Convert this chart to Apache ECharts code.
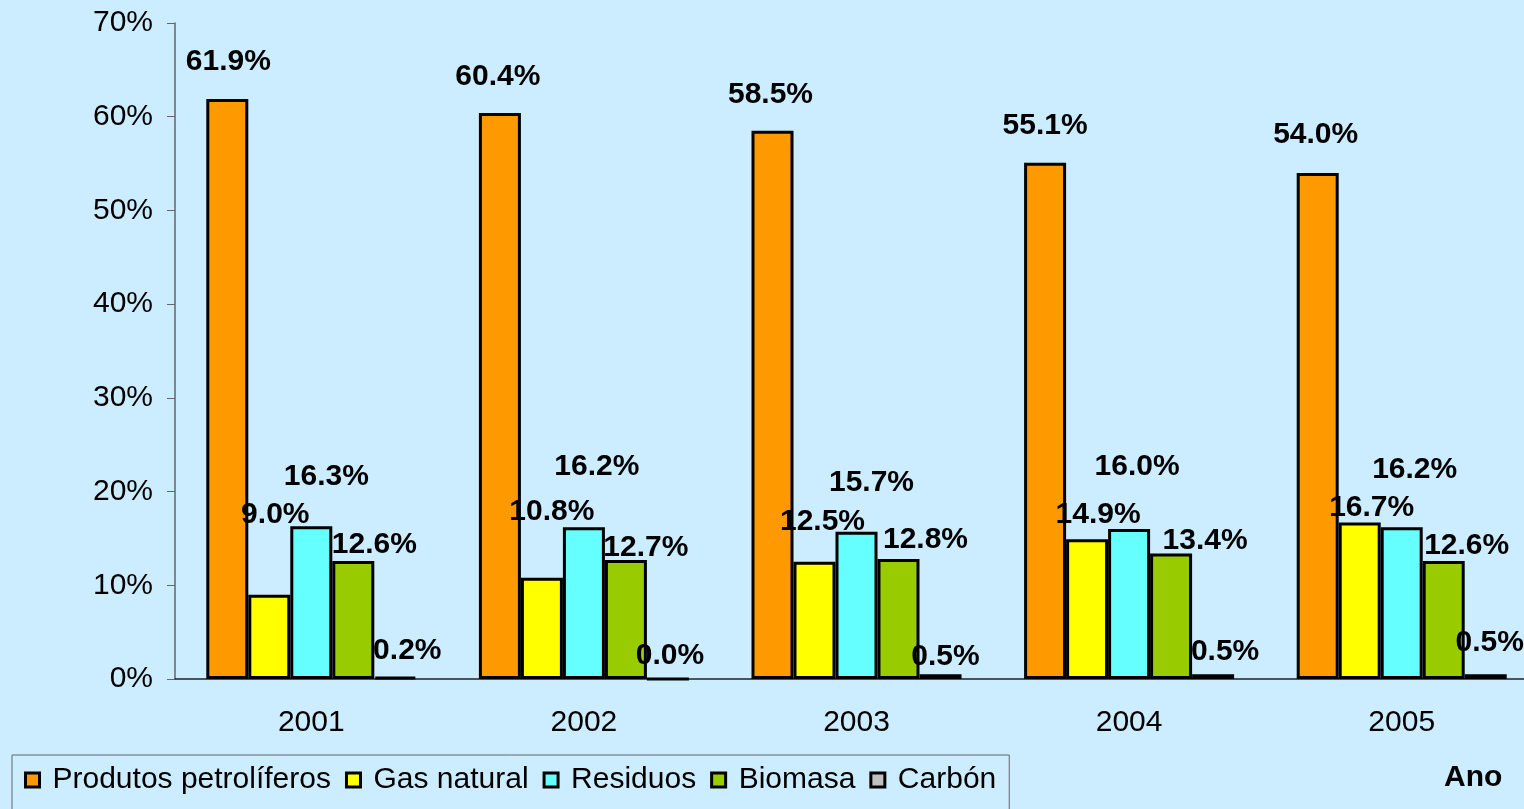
<!DOCTYPE html>
<html>
<head>
<meta charset="utf-8">
<title>Consumo por fonte</title>
<script src="https://cdn.jsdelivr.net/npm/echarts@6/dist/echarts.min.js"></script>
<style>
    html, body { margin: 0; padding: 0; background: #CCECFF; }
    #placeholder { width: 1524px; height: 809px; }
</style>
</head>
<body>
<div id="placeholder"></div>
<script>
// datos do grafico
var years = ['2001', '2002', '2003', '2004', '2005'];
var seriesNames = ['Produtos petrolíferos', 'Gas natural', 'Residuos', 'Biomasa', 'Carbón'];
var petroliferos = [61.9, 60.4, 58.5, 55.1, 54.0];
var gasNatural = [9.0, 10.8, 12.5, 14.9, 16.7];
var residuos = [16.3, 16.2, 15.7, 16.0, 16.2];
var biomasa = [12.6, 12.7, 12.8, 13.4, 12.6];
var carbon = [0.2, 0.0, 0.5, 0.5, 0.5];
var yTicks = [0, 10, 20, 30, 40, 50, 60, 70];

(function () {
    'use strict'

    var colors = ['#FF9900', '#FFFF00', '#66FFFF', '#99CC00', '#C0C0C0'];
    var values = [petroliferos, gasNatural, residuos, biomasa, carbon];

    // label nudges (dx, dy) per serie/year, labels were moved by hand in the original
    var labelNudge = [
        [[1, -22], [-2, -21], [-2, -21], [0, -22], [-2, -23]],
        [[6, -65], [10, -51], [8, -25], [11, -10], [12, 0]],
        [[15, -35], [13, -45], [15, -34], [8, -47], [13, -42]],
        [[21, -1], [20, 3], [27, -4], [34, 2], [23, 0]],
        [[12, -11], [2, -7], [5, -3], [12, -8], [4, -17]]
    ];

    var font = 'Liberation Sans, Arial, sans-serif';

    var series = values.map(function (arr, s) {
        return {
            name: seriesNames[s],
            type: 'bar',
            barWidth: 42,
            barGap: '0%',
            itemStyle: {
                color: colors[s],
                borderColor: '#000',
                borderWidth: 3
            },
            label: {
                show: true,
                position: 'top',
                distance: 0,
                color: '#000',
                fontFamily: font,
                fontWeight: 'bold',
                fontSize: 30,
                formatter: function (p) { return p.value.toFixed(1) + '%'; }
            },
            data: arr.map(function (v, i) {
                return { value: v, label: { offset: labelNudge[s][i] } };
            })
        };
    });

    var legendData = seriesNames.map(function (n, s) {
        return {
            name: n,
            itemStyle: { color: colors[s], borderColor: '#000', borderWidth: 3 }
        };
    });

    var myChart = echarts.init(document.getElementById('placeholder'));
    var option = {
        backgroundColor: '#CCECFF',
        animation: false,
        textStyle: { fontFamily: font },
        title: {
            text: 'Ano',
            left: 1444,
            top: 763,
            padding: 0,
            textStyle: { fontFamily: font, fontWeight: 'bold', fontSize: 30, color: '#000' }
        },
        grid: {
            left: 175,
            right: -14,
            top: 23,
            bottom: 130,
            outerBoundsMode: 'none'
        },
        legend: {
            left: 12,
            top: 755,
            orient: 'horizontal',
            backgroundColor: '#CCECFF',
            borderColor: '#666',
            borderWidth: 1,
            borderRadius: 0,
            padding: [10, 13, 40, 12],
            itemWidth: 14,
            itemHeight: 14,
            itemGap: 14,
            icon: 'rect',
            textStyle: {
                fontFamily: font,
                fontSize: 30,
                color: '#000',
                padding: [0, 0, 0, 8]
            },
            data: legendData
        },
        xAxis: {
            type: 'category',
            data: years,
            axisLine: { lineStyle: { color: '#222', width: 1.5 } },
            axisTick: { length: 8, lineStyle: { color: '#555' } },
            axisLabel: { color: '#000', fontSize: 30, fontFamily: font, margin: 29 }
        },
        yAxis: {
            type: 'value',
            min: yTicks[0],
            max: yTicks[yTicks.length - 1],
            interval: 10,
            axisLine: { show: true, lineStyle: { color: '#666', width: 1.5 } },
            axisTick: { show: true, length: 8, lineStyle: { color: '#666' } },
            splitLine: { show: false },
            axisLabel: {
                color: '#000',
                fontSize: 30,
                fontFamily: font,
                margin: 22,
                formatter: '{value}%'
            }
        },
        series: series
    };

    myChart.setOption(option);
})();
</script>
</body>
</html>
